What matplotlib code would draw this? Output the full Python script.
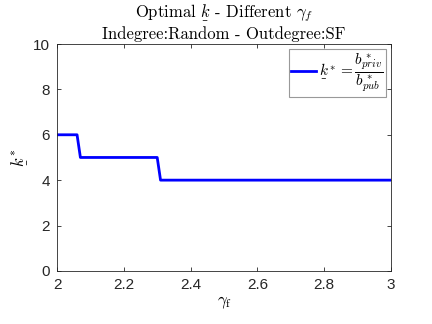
import matplotlib
matplotlib.use("Agg")
import matplotlib.pyplot as plt

# step curve
gamma_f = [2.0, 2.06, 2.07, 2.30, 2.31, 3.0]
k_opt = [6, 6, 5, 5, 4, 4]

x_ticks = [2, 2.2, 2.4, 2.6, 2.8, 3]
x_ticklabels = ["2", "2.2", "2.4", "2.6", "2.8", "3"]
y_ticks = [0, 2, 4, 6, 8, 10]

plt.rcParams["mathtext.fontset"] = "cm"
plt.rcParams["font.family"] = ["Liberation Sans", "DejaVu Sans"]
plt.rcParams["axes.formatter.use_mathtext"] = False

kbar = r"\underset{\_}{k}"

fig = plt.figure(figsize=(4.32, 3.24), dpi=100)
ax = fig.add_axes([0.132, 0.164, 0.773, 0.700])

ax.plot(gamma_f, k_opt, color="#0000ff", linewidth=2,
        label=r"$" + kbar + r"^* = \dfrac{b^*_{priv}}{b^*_{pub}}$")

ax.set_xlim(2, 3)
ax.set_ylim(0, 10)
ax.set_xticks(x_ticks)
ax.set_xticklabels(x_ticklabels)
ax.set_yticks(y_ticks)
ax.tick_params(direction="in", top=True, right=True, length=3, width=0.6,
               labelsize=11, colors="#262626", pad=5)
for s in ax.spines.values():
    s.set_color("#262626")
    s.set_linewidth(0.6)

ax.set_xlabel(r"$\gamma_\mathrm{f}$", fontsize=12, labelpad=2)
ax.set_ylabel(r"$" + kbar + r"^*$", fontsize=12, labelpad=2)
ax.set_title("Optimal $" + kbar + r"$ - Different $\gamma_f$" + "\n"
             + "Indegree:Random - Outdegree:SF",
             fontsize=12, linespacing=1.1, pad=4, family="cmr10")

leg = ax.legend(loc="upper right", fontsize=11, fancybox=False, framealpha=1,
                edgecolor="#999999", handlelength=1.6, borderpad=0.15,
                handletextpad=0.2, borderaxespad=0.35)
leg.get_frame().set_linewidth(0.8)

fig.savefig("out.png", dpi=100)
